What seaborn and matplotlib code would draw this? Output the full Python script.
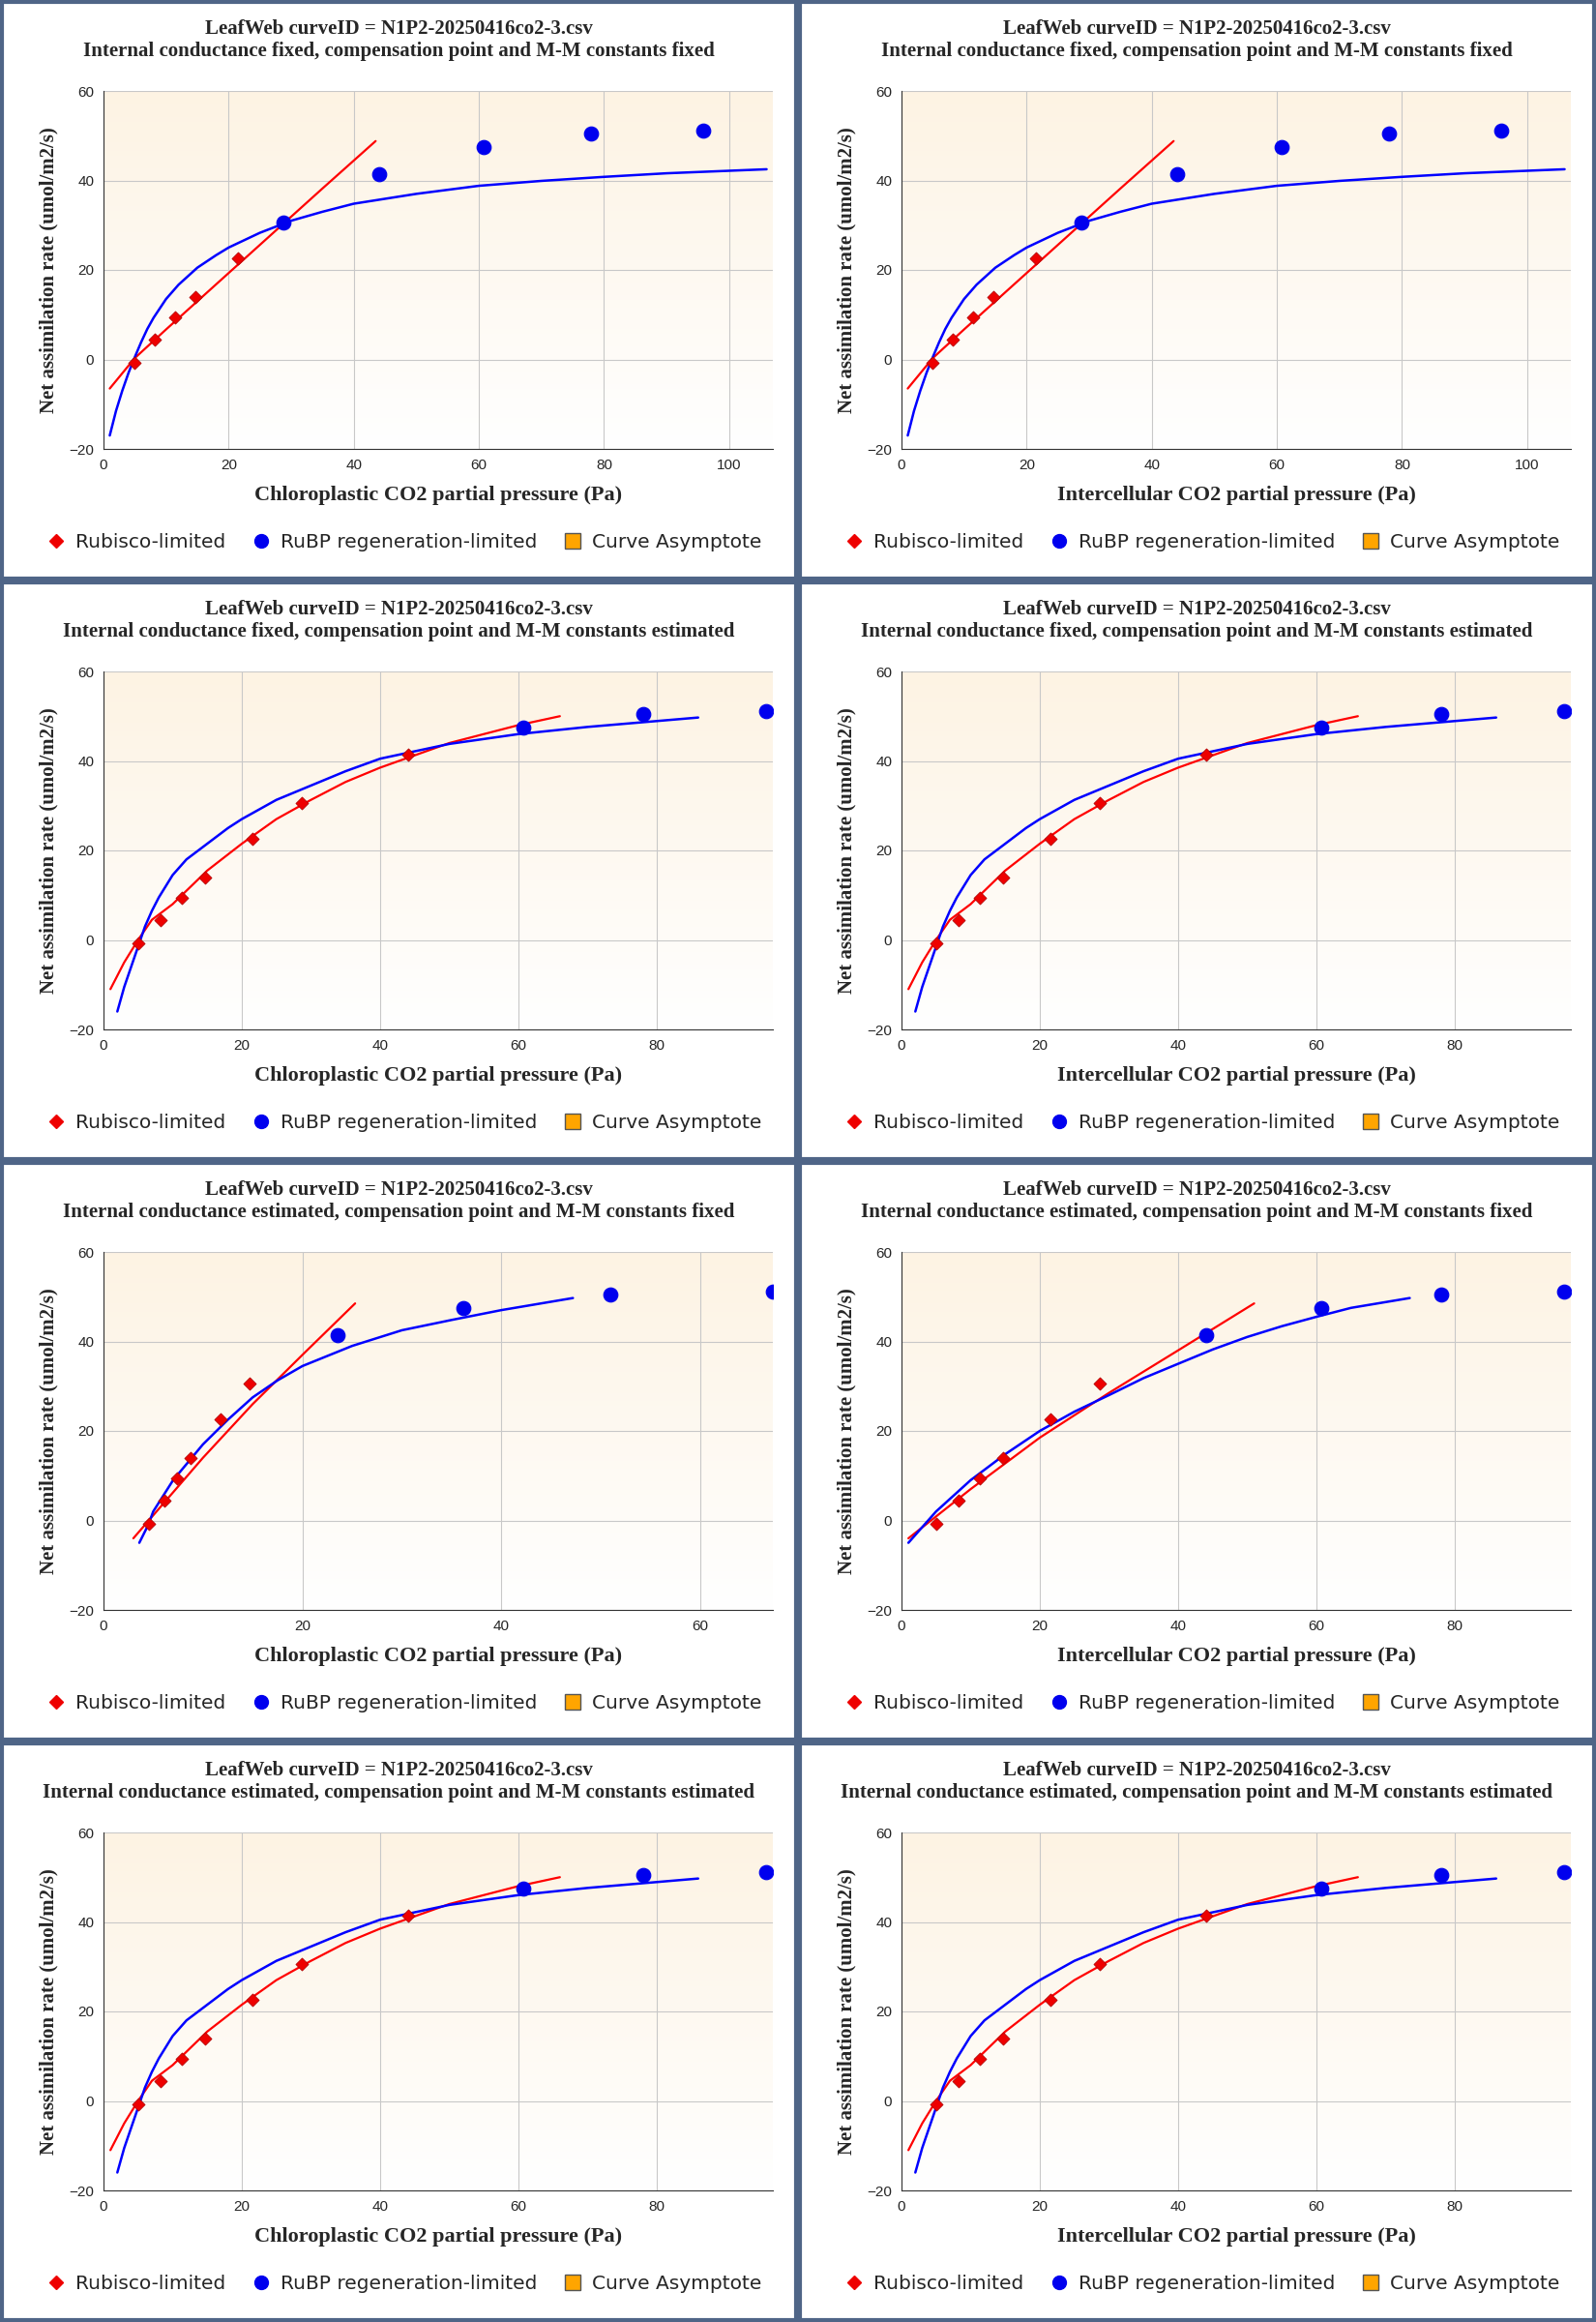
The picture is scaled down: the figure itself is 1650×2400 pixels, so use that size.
import numpy as np
import pandas as pd
import seaborn as sns
import matplotlib.pyplot as plt
from matplotlib.lines import Line2D

# measured points (shared)
ci_x = [5.0, 8.2, 11.4, 14.7, 21.5, 28.7, 44.0, 60.7, 78.0, 95.8]
a_y = [-0.7, 4.5, 9.5, 14.0, 22.7, 30.7, 41.5, 47.4, 50.4, 51.2]
# chloroplastic x when internal conductance estimated, M-M fixed
cc_est_x = [4.6, 6.1, 7.4, 8.8, 11.8, 14.7, 23.5, 36.2, 51.0, 67.3]

title1 = "LeafWeb curveID = N1P2-20250416co2-3.csv"
subtitles = [
    "Internal conductance fixed, compensation point and M-M constants fixed",
    "Internal conductance fixed, compensation point and M-M constants estimated",
    "Internal conductance estimated, compensation point and M-M constants fixed",
    "Internal conductance estimated, compensation point and M-M constants estimated",
]
xlabels = ["Chloroplastic CO2 partial pressure (Pa)", "Intercellular CO2 partial pressure (Pa)"]

# fitted curves: (rubisco_x, rubisco_y, rubp_x, rubp_y)
curve_a = ([1, 5, 10, 20, 30, 35, 43.5], [-6.5, 0.3, 6.7, 19.3, 31.9, 38.2, 48.8],
           [1, 2, 3, 4, 5, 6, 7, 8, 10, 12, 15, 18, 20, 25, 30, 35, 40, 50, 60, 70, 80, 90, 106],
           [-17, -11.5, -7, -3, 0.5, 3.8, 6.8, 9.3, 13.5, 16.7, 20.5, 23.3, 25, 28.3, 31, 33, 34.8, 37,
            38.8, 39.9, 40.8, 41.6, 42.5])
curve_b = ([1, 3, 5, 7, 10, 15, 20, 25, 30, 35, 40, 50, 60, 66],
           [-11, -5, 0, 4.5, 8, 15.5, 21.5, 27, 31.3, 35.3, 38.5, 44, 48, 50],
           [2, 3, 4, 5, 6, 7, 8, 10, 12, 15, 18, 20, 25, 30, 35, 40, 50, 60, 70, 86],
           [-16, -10.5, -6, -1.5, 3, 6.5, 9.5, 14.5, 18, 21.5, 25, 27, 31.3, 34.5, 37.7, 40.5, 43.8,
            46, 47.6, 49.7])
curve_c = ([3, 10, 15, 20, 25.3], [-4, 14, 26, 37, 48.5],
           [3.6, 4.5, 5, 6, 7, 8.5, 10, 12.5, 15, 17.5, 20, 25, 30, 35, 40, 47.2],
           [-5, -1, 2, 5.5, 9, 13, 17, 22.5, 27.5, 31.3, 34.5, 39, 42.5, 44.8, 47, 49.7])
curve_d = ([1, 10, 20, 30, 40, 51], [-4, 7, 18.5, 28.5, 38, 48.5],
           [1, 5, 10, 15, 20, 25, 30, 35, 40, 45, 50, 55, 60, 65, 73.5],
           [-5, 2, 9, 14.8, 20, 24.3, 28, 31.8, 35, 38.2, 41, 43.4, 45.5, 47.5, 49.7])

curves_chl = [curve_a, curve_b, curve_c, curve_b]
curves_int = [curve_a, curve_b, curve_d, curve_b]
row_nrub = [5, 7, 6, 7]
xlim_chl = [107, 96.8, 67.3, 96.8]
xlim_int = [107, 96.8, 96.8, 96.8]
xt_chl = [[0, 20, 40, 60, 80, 100], [0, 20, 40, 60, 80], [0, 20, 40, 60], [0, 20, 40, 60, 80]]
xt_int = [[0, 20, 40, 60, 80, 100], [0, 20, 40, 60, 80], [0, 20, 40, 60, 80], [0, 20, 40, 60, 80]]

sns.set_style("white")
serif = ["Liberation Serif", "DejaVu Serif"]
sans = ["DejaVu Sans"]
W, H = 1650, 2400
fig = plt.figure(figsize=(16.5, 24), dpi=100)

grad = np.linspace(0, 1, 256).reshape(-1, 1)
bg = np.ones((256, 1, 3))
top = np.array([253, 243, 227]) / 255
for i in range(3):
    bg[:, 0, i] = top[i] + (1 - top[i]) * grad[:, 0]

for r in range(4):
    for c in range(2):
        px, py = c * 825, r * 600
        # panel frame
        fig.patches.append(plt.Rectangle((px / W + 0.001, 1 - (py + 600) / H + 0.0008), 825 / W - 0.002, 600 / H - 0.0016,
                                         transform=fig.transFigure, fill=False, edgecolor="#4f6587", lw=3))
        ax = fig.add_axes([(px + 107) / W, 1 - (py + 464) / H, 692 / W, 370 / H])
        if c == 0:
            xs = cc_est_x if r == 2 else ci_x
            cur = curves_chl[r]
            xmax, xt = xlim_chl[r], xt_chl[r]
        else:
            xs = ci_x
            cur = curves_int[r]
            xmax, xt = xlim_int[r], xt_int[r]
        n = row_nrub[r]
        ax.imshow(bg, extent=[0, xmax, -20, 60], aspect="auto", zorder=0)
        sns.lineplot(x=cur[0], y=cur[1], ax=ax, color="#ff0000", lw=1.6, sort=False, zorder=3)
        sns.lineplot(x=cur[2], y=cur[3], ax=ax, color="#0000ff", lw=1.8, sort=False, zorder=3)
        sns.scatterplot(x=xs[:n], y=a_y[:n], ax=ax, marker="D", color="#ee0000", s=45,
                        edgecolor="#aa0000", linewidth=0.5, zorder=4)
        sns.scatterplot(x=xs[n:], y=a_y[n:], ax=ax, marker="o", color="#0000ee", s=110,
                        edgecolor="#0000ee", zorder=4)
        ax.set_xlim(0, xmax)
        ax.set_ylim(-20, 60)
        ax.set_xticks(xt)
        ax.set_yticks([-20, 0, 20, 40, 60])
        ax.grid(True, color="#c8c8c8", lw=0.8)
        ax.set_axisbelow(True)
        for s in ["top", "right"]:
            ax.spines[s].set_visible(False)
        for s in ["left", "bottom"]:
            ax.spines[s].set_color("#333333")
            ax.spines[s].set_linewidth(0.8)
        ax.tick_params(axis="both", length=5, width=0.8, color="#333333", labelsize=11, pad=2, direction="out")
        for lb in ax.get_xticklabels() + ax.get_yticklabels():
            lb.set_family(["Liberation Sans Narrow", "Liberation Sans", "DejaVu Sans"])
        ax.set_xlabel(xlabels[c], fontsize=16, fontweight="bold", family=serif, labelpad=10)
        ax.set_ylabel("Net assimilation rate (umol/m2/s)", fontsize=15, fontweight="bold", family=serif, labelpad=8)
        cx = (px + 412) / W
        fig.text(cx, 1 - (py + 30) / H, title1, ha="center", va="center", fontsize=15, fontweight="bold", family=serif)
        fig.text(cx, 1 - (py + 53) / H, subtitles[r], ha="center", va="center", fontsize=15, fontweight="bold", family=serif)
        handles = [
            Line2D([], [], marker="D", ls="", color="#ee0000", markersize=7, label="Rubisco-limited"),
            Line2D([], [], marker="o", ls="", color="#0000ee", markersize=10, label="RuBP regeneration-limited"),
            Line2D([], [], marker="s", ls="", color="#ffa500", markeredgecolor="#555555", markersize=11, label="Curve Asymptote"),
        ]
        fig.legend(handles=handles, loc="center left", bbox_to_anchor=((px + 38) / W, 1 - (py + 561) / H),
                   ncol=3, frameon=False, prop={"family": sans, "size": 14.5}, handletextpad=0.5, columnspacing=1.3,
                   handlelength=1.0, borderpad=0)

fig.savefig("out.png", dpi=100)
